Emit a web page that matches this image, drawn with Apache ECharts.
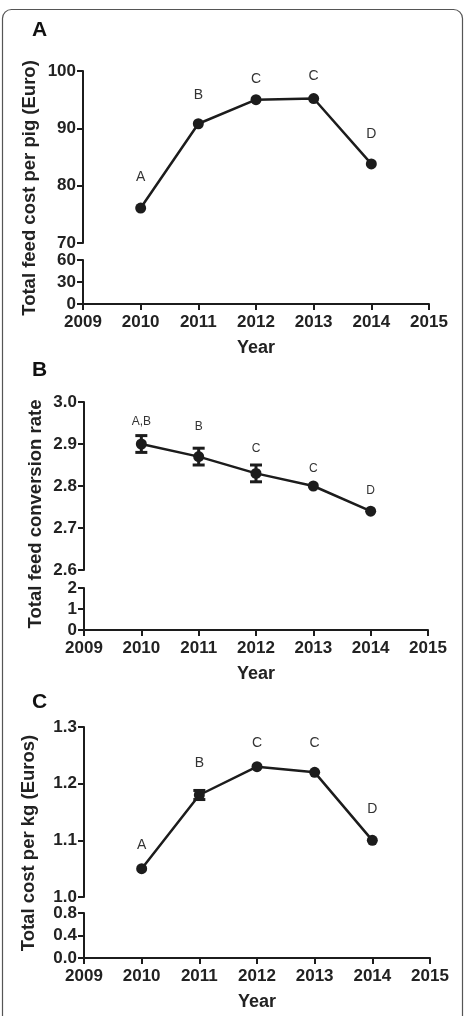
<!DOCTYPE html>
<html>
<head>
<meta charset="utf-8">
<script src="https://cdn.jsdelivr.net/npm/echarts@6/dist/echarts.min.js"></script>
<style>
html, body { margin: 0; padding: 0; background: #fff; }
#chart { width: 465px; height: 1016px; }
</style>
</head>
<body>
<div id="chart"></div>
<script>
// data
const years = [2010, 2011, 2012, 2013, 2014];
const xTicks = [2009, 2010, 2011, 2012, 2013, 2014, 2015];

const feedCost = [76.1, 90.8, 95.0, 95.2, 83.8];
const feedCostErr = [0, 0, 0, 0, 0];
const feedCostLetters = ['A', 'B', 'C', 'C', 'D'];
const feedCostTicksHigh = [70, 80, 90, 100];
const feedCostTicksLow = [0, 30, 60];

const fcr = [2.90, 2.87, 2.83, 2.80, 2.74];
const fcrErr = [0.02, 0.02, 0.02, 0, 0];
const fcrLetters = ['A,B', 'B', 'C', 'C', 'D'];
const fcrTicksHigh = [2.6, 2.7, 2.8, 2.9, 3.0];
const fcrTicksLow = [0, 1, 2];

const costKg = [1.05, 1.18, 1.23, 1.22, 1.10];
const costKgErr = [0, 0.008, 0, 0, 0];
const costKgLetters = ['A', 'B', 'C', 'C', 'D'];
const costKgTicksHigh = [1.0, 1.1, 1.2, 1.3];
const costKgTicksLow = [0, 0.4, 0.8];

const FONT = '"Liberation Sans", Arial, Helvetica, sans-serif';
const INK = '#1c1c1c';

const panels = [
  {
    letter: 'A', title: 'Total feed cost per pig (Euro)',
    values: feedCost, errs: feedCostErr, letters: feedCostLetters,
    high: feedCostTicksHigh, low: feedCostTicksLow, decimals: 0, lowDecimals: 0,
    left: 83, right: 36, highTop: 71, highH: 172, lowTop: 260, lowH: 44,
    letterPos: [32, 31], titlePos: [30, 188], labelSize: 14,
    lift: [31, 29, 21, 22, 30]
  },
  {
    letter: 'B', title: 'Total feed conversion rate',
    values: fcr, errs: fcrErr, letters: fcrLetters,
    high: fcrTicksHigh, low: fcrTicksLow, decimals: 1, lowDecimals: 0,
    left: 84, right: 37, highTop: 402, highH: 168, lowTop: 588, lowH: 42,
    letterPos: [32, 371], titlePos: [36, 514], labelSize: 12,
    lift: [22, 30, 25, 17, 21]
  },
  {
    letter: 'C', title: 'Total cost per kg (Euros)',
    values: costKg, errs: costKgErr, letters: costKgLetters,
    high: costKgTicksHigh, low: costKgTicksLow, decimals: 1, lowDecimals: 1,
    left: 84, right: 35, highTop: 727, highH: 170, lowTop: 913, lowH: 45,
    letterPos: [32, 703], titlePos: [29, 843], labelSize: 14,
    lift: [24, 32, 24, 29, 31]
  }
];

const grid = [], xAxis = [], yAxis = [], series = [], graphic = [];

function yAxisFor(gi, ticks, decimals) {
  return {
    type: 'value', gridIndex: gi,
    min: ticks[0], max: ticks[ticks.length - 1], interval: ticks[1] - ticks[0],
    axisLine: { show: true, lineStyle: { color: INK, width: 2 } },
    axisTick: { show: true, length: 6, lineStyle: { color: INK, width: 2 } },
    axisLabel: {
      margin: 7, color: '#222', fontFamily: FONT, fontWeight: 'bold', fontSize: 17,
      formatter: v => Number(v).toFixed(decimals)
    },
    splitLine: { show: false }
  };
}

panels.forEach((p, k) => {
  const hi = 2 * k, lo = 2 * k + 1;
  grid.push({ left: p.left, right: p.right, top: p.highTop, height: p.highH });
  grid.push({ left: p.left, right: p.right, top: p.lowTop, height: p.lowH });

  xAxis.push({
    type: 'value', gridIndex: hi, min: xTicks[0], max: xTicks[xTicks.length - 1],
    interval: 1, show: false
  });
  xAxis.push({
    type: 'value', gridIndex: lo, min: xTicks[0], max: xTicks[xTicks.length - 1], interval: 1,
    axisLine: { show: true, onZero: false, lineStyle: { color: INK, width: 2 } },
    axisTick: { show: true, length: 6, lineStyle: { color: INK, width: 2 } },
    axisLabel: {
      margin: 10, color: '#222', fontFamily: FONT, fontWeight: 'bold', fontSize: 17,
      formatter: v => String(v)
    },
    splitLine: { show: false },
    name: 'Year', nameLocation: 'middle', nameGap: 35,
    nameTextStyle: { color: '#222', fontFamily: FONT, fontWeight: 'bold', fontSize: 18 }
  });

  yAxis.push(yAxisFor(hi, p.high, p.decimals));
  yAxis.push(yAxisFor(lo, p.low, p.lowDecimals));

  series.push({
    type: 'line', xAxisIndex: hi, yAxisIndex: hi, z: 2,
    data: years.map((y, i) => [y, p.values[i]]),
    symbol: 'circle', symbolSize: 11,
    lineStyle: { color: INK, width: 2.5 },
    itemStyle: { color: INK },
    label: {
      show: true, position: 'inside', color: '#333',
      fontFamily: FONT, fontSize: p.labelSize,
      formatter: params => p.letters[params.dataIndex]
    },
    labelLayout: params => ({ dy: -p.lift[params.dataIndex] })
  });

  const errData = years
    .map((y, i) => [y, p.values[i] - p.errs[i], p.values[i] + p.errs[i]])
    .filter((d, i) => p.errs[i] > 0);
  if (errData.length) {
    series.push({
      type: 'custom', xAxisIndex: hi, yAxisIndex: hi, z: 3,
      encode: { x: 0, y: [1, 2] },
      data: errData,
      renderItem: function (params, api) {
        const a = api.coord([api.value(0), api.value(1)]);
        const b = api.coord([api.value(0), api.value(2)]);
        const hw = 6;
        const style = { stroke: INK, lineWidth: 3 };
        return {
          type: 'group',
          children: [
            { type: 'line', shape: { x1: a[0], y1: a[1], x2: b[0], y2: b[1] }, style },
            { type: 'line', shape: { x1: a[0] - hw, y1: a[1], x2: a[0] + hw, y2: a[1] }, style },
            { type: 'line', shape: { x1: b[0] - hw, y1: b[1], x2: b[0] + hw, y2: b[1] }, style }
          ]
        };
      }
    });
  }

  graphic.push({
    type: 'text', left: p.letterPos[0], top: p.letterPos[1] - 11,
    style: { text: p.letter, fontFamily: FONT, fontWeight: 'bold', fontSize: 21, fill: '#111' }
  });
  graphic.push({
    type: 'text', x: p.titlePos[0], y: p.titlePos[1], rotation: Math.PI / 2,
    style: {
      text: p.title, fontFamily: FONT, fontWeight: 'bold', fontSize: 18.5, fill: '#222',
      align: 'center', verticalAlign: 'middle'
    }
  });
});

// outer rounded frame
graphic.push({
  type: 'rect', z: -1,
  shape: { x: 2.5, y: 9.5, width: 460, height: 1040, r: 9 },
  style: { fill: 'none', stroke: '#555', lineWidth: 1.2 }
});

const chart = echarts.init(document.getElementById('chart'));
chart.setOption({
  animation: false,
  grid, xAxis, yAxis, series, graphic
});
window.addEventListener('resize', () => chart.resize());
</script>
</body>
</html>
